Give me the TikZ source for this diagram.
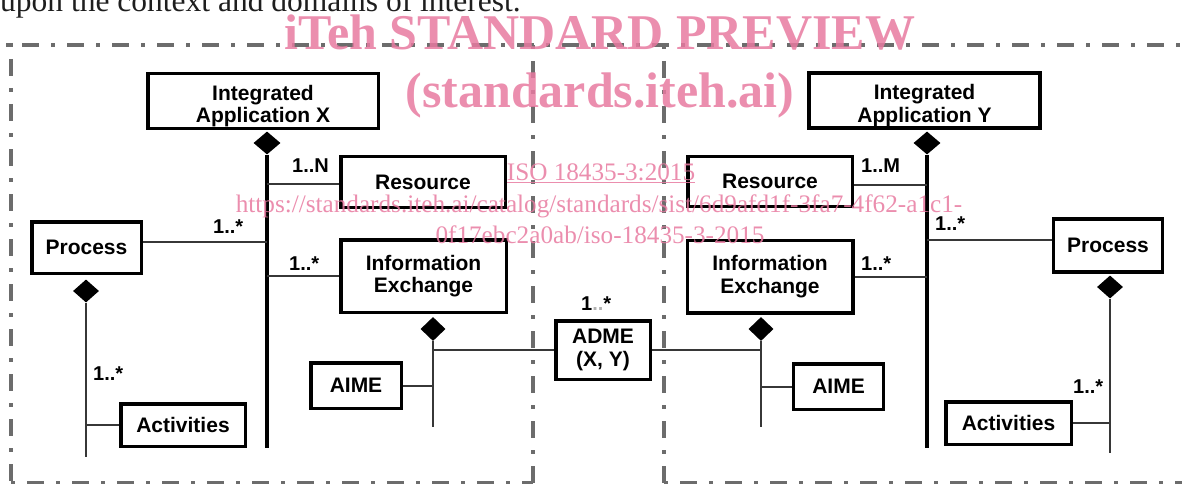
\documentclass[tikz,border=0pt]{standalone}
\usepackage{fontspec}
\setmainfont{Liberation Serif}
\newfontfamily\diagfont{Liberation Sans}
\usetikzlibrary{shapes.geometric,calc}
\definecolor{framegray}{RGB}{108,108,108}
\definecolor{linkgray}{RGB}{55,55,55}
\definecolor{wmpink}{RGB}{232,122,160}
\definecolor{leadtext}{RGB}{30,30,30}
\tikzset{
  box/.style={draw=black, line width=3.5pt, fill=white, inner sep=0pt, align=center,
    font=\diagfont\bfseries\fontsize{21}{22.5}\selectfont},
  dia/.style={diamond, fill=black, draw=none, inner sep=0pt, minimum width=27pt, minimum height=23pt},
  spine/.style={line width=4.3pt, black},
  link/.style={line width=2pt, linkgray},
  mult/.style={font=\diagfont\bfseries\fontsize{20}{20}\selectfont, inner sep=0pt, anchor=base west},
  frameline/.style={line width=4pt, framegray, dash pattern=on 4pt off 12pt on 17pt off 12pt},
  wm/.style={text=wmpink, text opacity=0.85, inner sep=0pt, anchor=base}
}
% a strut that lowers the two-line titles a little inside their boxes
\newcommand{\titlestrut}{\rule{0pt}{25pt}}
\begin{document}
\begin{tikzpicture}[x=1pt, y=-1pt]
\useasboundingbox (0,0) rectangle (1182,484);
\clip (0,0) rectangle (1182,484);

% running text above the figure
\node[anchor=base west, inner sep=0pt, text=leadtext, font=\fontsize{31.5}{31.5}\selectfont] (lead) at (0,12)
  {upon the context and domains of interest.};

% domain frames
\draw[frameline] (6,45) -- (1190,45);
\draw[frameline] (11,43) -- (11,490);
\draw[frameline] (533,45) -- (533,490);
\draw[frameline] (664,45) -- (664,490);
\draw[frameline] (11,483) -- (533,483);
\draw[frameline] (664,483) -- (1190,483);

% application X
\node[box, minimum width=230.5, minimum height=54.5] (iaX) at (263,101) {\titlestrut Integrated\\Application X};
\node[box, minimum width=164.5, minimum height=51] (resX) at (423,182) {Resource};
\node[box, minimum width=165.5, minimum height=72.5] (ieX) at (423.5,276) {Information\\Exchange};
\node[box, minimum width=109.5, minimum height=51.5] (procX) at (86.5,247.5) {Process};
\node[box, minimum width=124.5, minimum height=42.5] (actX) at (183,425) {Activities};
\node[box, minimum width=90.5, minimum height=45.5] (aimeX) at (356,385.5) {AIME};

% application Y
\node[box, minimum width=231, minimum height=55] (iaY) at (924.5,100.5) {\titlestrut Integrated\\Application Y};
\node[box, minimum width=164.5, minimum height=50] (resY) at (770,181.5) {Resource};
\node[box, minimum width=165.5, minimum height=72.5] (ieY) at (770,276.5) {Information\\Exchange};
\node[box, minimum width=109, minimum height=53] (procY) at (1108,245.5) {Process};
\node[box, minimum width=125.5, minimum height=42.5] (actY) at (1008.5,423) {Activities};
\node[box, minimum width=90, minimum height=45.5] (aimeY) at (838.5,386.5) {AIME};

% shared exchange
\node[box, minimum width=94.5, minimum height=58.5] (adme) at (603,350) {ADME\\(X, Y)};

% composition diamonds
\node[dia] (dX) at (267,143) {};
\node[dia] (dY) at (927,143) {};
\node[dia, minimum width=26pt] (dPX) at (86,291) {};
\node[dia, minimum width=26pt] (dPY) at (1110,287) {};
\node[dia, minimum width=25pt, minimum height=24pt] (dIEX) at (433,329) {};
\node[dia, minimum width=25pt, minimum height=24pt] (dIEY) at (761,329) {};

% free ends of the composition lines
\coordinate (endX) at (267,448);
\coordinate (endY) at (927,448);
\coordinate (endPX) at (86,457);
\coordinate (endPY) at (1110,453);
\coordinate (endIEX) at (433,427);
\coordinate (endIEY) at (761,427);

% branch points
\coordinate (pX) at ([yshift=6pt]procX.east);
\coordinate (pY) at ([yshift=6pt]procY.west);
\coordinate (rX) at ([yshift=-2pt]resX.west);
\coordinate (rY) at ([yshift=-3pt]resY.east);

% connectors, X side
\draw[spine] (dX.south) -- (endX);
\draw[link] (rX) -- (rX -| dX);
\draw[link] (pX) -- (pX -| dX);
\draw[link] (ieX.west) -- (ieX.west -| dX);
\draw[link] (dPX.south) -- (endPX);
\draw[link] (actX.west) -- (actX.west -| dPX);
\draw[link] (dIEX.south) -- (endIEX);
\draw[link] (aimeX.east) -- (aimeX.east -| dIEX);
\draw[link] (adme.west) -- (adme.west -| dIEX);

% connectors, Y side
\draw[spine] (dY.south) -- (endY);
\draw[link] (rY) -- (rY -| dY);
\draw[link] (pY) -- (pY -| dY);
\draw[link] (ieY.east) -- (ieY.east -| dY);
\draw[link] (dPY.south) -- (endPY);
\draw[link] (actY.east) -- (actY.east -| dPY);
\draw[link] (dIEY.south) -- (endIEY);
\draw[link] (aimeY.west) -- (aimeY.west -| dIEY);
\draw[link] (adme.east) -- (adme.east -| dIEY);

% multiplicities
\node[mult] (mResX) at (292,172) {1..N};
\node[mult] (mProcX) at (213,233) {1..*};
\node[mult] (mIeX) at (289,270) {1..*};
\node[mult] (mActX) at (93,380) {1..*};
\node[mult] (mAdme) at (581,310) {1\textcolor{black!30}{..}*};
\node[mult] (mResY) at (861,172) {1..M};
\node[mult] (mIeY) at (861,270) {1..*};
\node[mult] (mProcY) at (935,230) {1..*};
\node[mult] (mActY) at (1073,393) {1..*};

% overlay stamp
\node[wm, font=\bfseries\fontsize{50}{50}\selectfont] (wm1) at (600,50) {iTeh STANDARD PREVIEW};
\node[wm, font=\bfseries\fontsize{50}{50}\selectfont] (wm2) at (600,108) {(standards.iteh.ai)};
\node[wm, font=\fontsize{25.2}{25.2}\selectfont] (wm3) at (601,180) {\underline{ISO 18435-3:2015}};
\node[wm, font=\fontsize{25.2}{25.2}\selectfont] (wm4) at (599,212) {https://standards.iteh.ai/catalog/standards/sist/6d9afd1f-3fa7-4f62-a1c1-};
\node[wm, font=\fontsize{25.2}{25.2}\selectfont] (wm5) at (600,243) {0f17ebc2a0ab/iso-18435-3-2015};
\end{tikzpicture}
\end{document}
